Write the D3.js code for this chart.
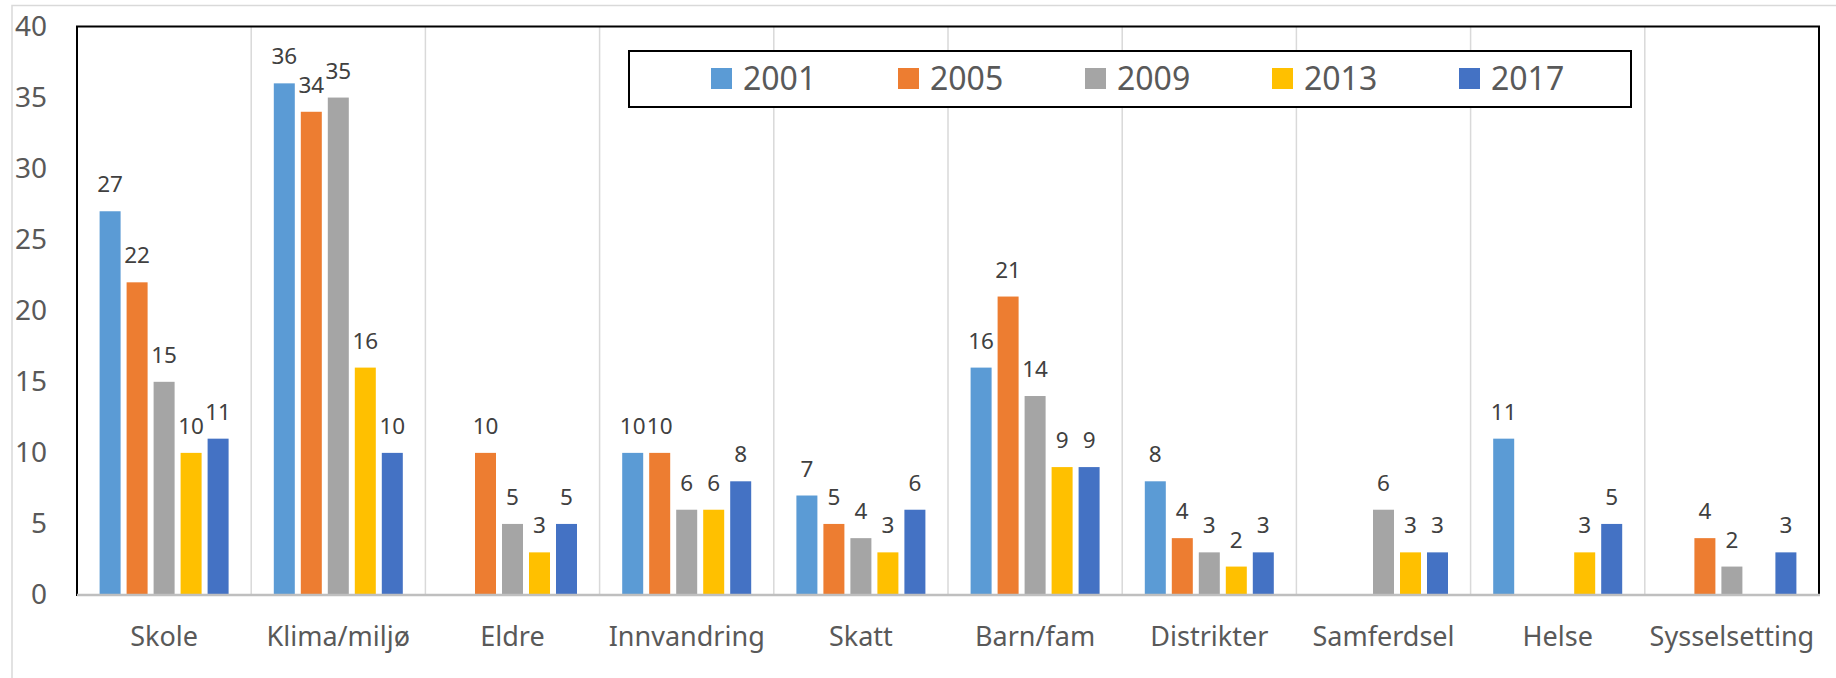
<!DOCTYPE html>
<html>
<head>
<meta charset="utf-8">
<script src="https://cdn.jsdelivr.net/npm/d3@7"></script>
<style>
  html, body { margin: 0; padding: 0; background: #fff; }
  svg { display: block; font-family: "Noto Sans", "Open Sans", sans-serif; }
</style>
</head>
<body>
<svg id="chart" width="1836" height="678"></svg>
<script>
// Data (null = no bar)
const categories = ["Skole", "Klima/miljø", "Eldre", "Innvandring", "Skatt",
  "Barn/fam", "Distrikter", "Samferdsel", "Helse", "Sysselsetting"];
const years = ["2001", "2005", "2009", "2013", "2017"];
const values2001 = [27, 36, null, 10, 7, 16, 8, null, 11, null];
const values2005 = [22, 34, 10, 10, 5, 21, 4, null, null, 4];
const values2009 = [15, 35, 5, 6, 4, 14, 3, 6, null, 2];
const values2013 = [10, 16, 3, 6, 3, 9, 2, 3, 3, null];
const values2017 = [11, 10, 5, 8, 6, 9, 3, 3, 5, 3];
const yTicks = [0, 5, 10, 15, 20, 25, 30, 35, 40];

const seriesValues = [values2001, values2005, values2009, values2013, values2017];
const colors = ["#5B9BD5", "#ED7D31", "#A5A5A5", "#FFC000", "#4472C4"];

const plot = { left: 77, right: 1819, top: 26.5, bottom: 595 };

const svg = d3.select("#chart");

// outer chart frame (only top and left show inside the picture)
svg.append("rect")
  .attr("x", 12).attr("y", 5.5)
  .attr("width", 1900).attr("height", 800)
  .attr("fill", "#fff")
  .attr("stroke", "#D9D9D9")
  .attr("stroke-width", 1.5);

const x0 = d3.scaleBand()
  .domain(categories)
  .range([plot.left, plot.right]);

// inner scale for the five years in one category
const cw = x0.bandwidth();
const groupW = 129;
const x1 = d3.scaleBand()
  .domain(years)
  .range([(cw - groupW) / 2, (cw + groupW) / 2])
  .paddingInner(6 / 27);

const y = d3.scaleLinear()
  .domain([0, 40])
  .range([plot.bottom, plot.top]);

// vertical gridlines between categories
svg.append("g")
  .selectAll("line")
  .data(categories.slice(1))
  .join("line")
  .attr("x1", d => x0(d)).attr("x2", d => x0(d))
  .attr("y1", plot.top).attr("y2", plot.bottom)
  .attr("stroke", "#D9D9D9")
  .attr("stroke-width", 1.5);

// bars + labels
const flat = [];
categories.forEach((c, ci) => {
  years.forEach((yr, si) => {
    const v = seriesValues[si][ci];
    if (v !== null) flat.push({ cat: c, year: yr, value: v, color: colors[si] });
  });
});

svg.append("g")
  .selectAll("rect")
  .data(flat)
  .join("rect")
  .attr("x", d => x0(d.cat) + x1(d.year))
  .attr("y", d => y(d.value))
  .attr("width", x1.bandwidth())
  .attr("height", d => y(0) - y(d.value))
  .attr("fill", d => d.color);

svg.append("g")
  .selectAll("text")
  .data(flat)
  .join("text")
  .attr("x", d => x0(d.cat) + x1(d.year) + x1.bandwidth() / 2)
  .attr("y", d => y(d.value) - 19)
  .attr("text-anchor", "middle")
  .attr("font-size", "22.5px")
  .attr("fill", "#404040")
  .text(d => d.value);

// plot area border
svg.append("rect")
  .attr("x", plot.left).attr("y", plot.top)
  .attr("width", plot.right - plot.left)
  .attr("height", plot.bottom - plot.top)
  .attr("fill", "none")
  .attr("stroke", "#000")
  .attr("stroke-width", 2);

// x axis line
svg.append("line")
  .attr("x1", plot.left).attr("x2", plot.right + 1)
  .attr("y1", plot.bottom).attr("y2", plot.bottom)
  .attr("stroke", "#BFBFBF")
  .attr("stroke-width", 2.5);

// y axis labels
const yAxis = d3.axisLeft(y).tickValues(yTicks).tickSize(0).tickPadding(0);
const gy = svg.append("g")
  .attr("transform", `translate(47,0)`)
  .call(yAxis);
gy.select(".domain").remove();
gy.selectAll("text")
  .attr("font-family", "Noto Sans, sans-serif")
  .attr("font-size", "28px")
  .attr("fill", "#595959");

// category labels
const xAxis = d3.axisBottom(x0).tickSize(0).tickPadding(0);
const gx = svg.append("g")
  .attr("transform", `translate(0,${plot.bottom})`)
  .call(xAxis);
gx.select(".domain").remove();
gx.selectAll("text")
  .attr("dy", null)
  .attr("y", 51)
  .attr("font-family", "Noto Sans, sans-serif")
  .attr("font-size", "27px")
  .attr("fill", "#595959");

// legend
const legend = svg.append("g");
legend.append("rect")
  .attr("x", 629).attr("y", 51)
  .attr("width", 1002).attr("height", 56)
  .attr("fill", "#fff")
  .attr("stroke", "#000")
  .attr("stroke-width", 2);

const items = legend.selectAll("g")
  .data(years)
  .join("g")
  .attr("transform", (d, i) => `translate(${711 + i * 187},68)`);
items.append("rect")
  .attr("width", 21).attr("height", 21)
  .attr("fill", (d, i) => colors[i]);
items.append("text")
  .attr("x", 32).attr("y", 22)
  .attr("font-size", "32px")
  .attr("fill", "#595959")
  .text(d => d);
</script>
</body>
</html>
